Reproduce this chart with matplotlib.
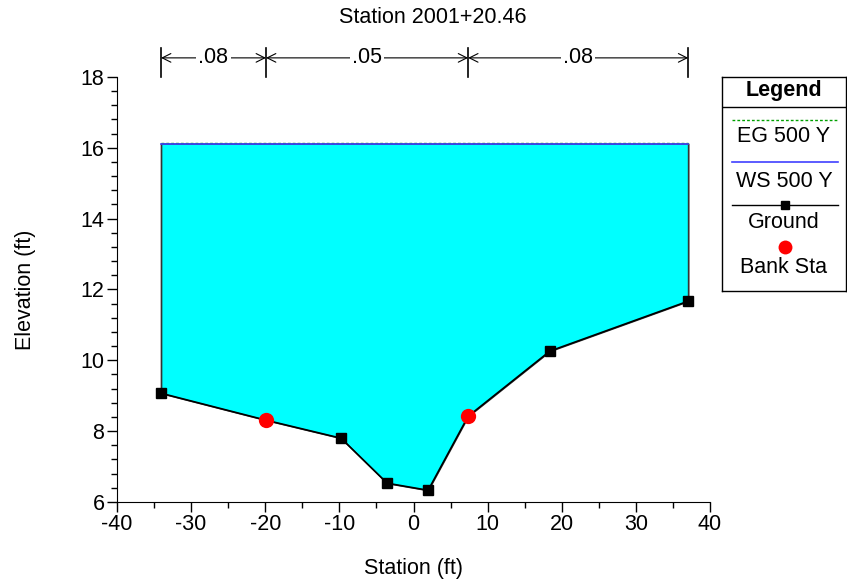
import matplotlib.pyplot as plt
import matplotlib.transforms as mtransforms
from matplotlib.ticker import MultipleLocator
import numpy as np

plt.rcParams['font.family'] = ['Liberation Sans', 'DejaVu Sans']
plt.rcParams['font.size'] = 15.5
plt.rcParams['axes.unicode_minus'] = False

# Ground profile (all points, left to right)
ground_sta = [-34.06, -19.9, -9.77, -3.56, 1.97, 7.37, 18.4, 37.06]
ground_elev = [9.07, 8.31, 7.80, 6.53, 6.33, 8.42, 10.26, 11.67]
# surveyed points that carry a square marker (indices into ground arrays)
ground_marks = [0, 2, 3, 4, 6, 7]

bank_sta = [-19.9, 7.37]
bank_elev = [8.31, 8.42]

ws_elev = 16.12
eg_elev = 16.15

# Manning's n sections along the top
n_breaks = [-34.06, -19.9, 7.37, 37.06]
n_values = [".08", ".05", ".08"]

fig = plt.figure(figsize=(8.47, 5.82), dpi=100)
ax = fig.add_axes([0.1381, 0.1375, 0.7002, 0.7302])

gx = np.array(ground_sta)
gy = np.array(ground_elev)

# water fill
ax.fill_between(gx, gy, ws_elev, color='#00ffff', edgecolor='#333333', linewidth=1, zorder=1)
ax.plot([gx[0], gx[0]], [gy[0], ws_elev], color='#333333', lw=1, zorder=2)
ax.plot([gx[-1], gx[-1]], [gy[-1], ws_elev], color='#333333', lw=1, zorder=2)

ax.plot([gx[0], gx[-1]], [eg_elev, eg_elev], color='#00a000', ls=(0, (2, 1.5)), lw=1, zorder=3)
ax.plot([gx[0], gx[-1]], [ws_elev, ws_elev], color='#4040ff', lw=1.2, zorder=3)

ax.plot(gx, gy, color='black', lw=1.2, marker='s', markersize=7, markevery=ground_marks, zorder=4)
ax.plot(bank_sta, bank_elev, 'o', color='red', markersize=11, zorder=5, markeredgewidth=0)

ax.set_xlim(-40, 40)
ax.set_ylim(6, 18)
ax.xaxis.set_major_locator(MultipleLocator(10))
ax.xaxis.set_minor_locator(MultipleLocator(5))
ax.yaxis.set_major_locator(MultipleLocator(2))
ax.yaxis.set_minor_locator(MultipleLocator(0.4))
ax.tick_params(which='major', length=7, width=1, direction='out', pad=2)
ax.tick_params(which='minor', length=4, width=1, direction='out')
ax.spines['top'].set_visible(False)
ax.spines['right'].set_visible(False)
ax.set_xlabel('Station (ft)', labelpad=16)
ax.set_ylabel('Elevation (ft)', labelpad=32)

# n-value dimension lines above the plot
trans = mtransforms.blended_transform_factory(ax.transData, ax.transAxes)
for b in n_breaks:
    ax.plot([b, b], [1.0, 1.068], color='black', lw=1.2, transform=trans, clip_on=False)
for i, val in enumerate(n_values):
    x0, x1 = n_breaks[i], n_breaks[i + 1]
    ax.annotate('', xy=(x0, 1.045), xytext=(x1, 1.045), xycoords=trans, textcoords=trans,
                arrowprops=dict(arrowstyle='<->', lw=0.8, color='black', shrinkA=0, shrinkB=0))
    ax.text((x0 + x1) / 2, 1.045, val, transform=trans, ha='center', va='center',
            bbox=dict(facecolor='white', edgecolor='none', pad=1.5))

fig.text(0.511, 0.970, 'Station 2001+20.46', ha='center', va='center', fontsize=15.5)

# legend box
lax = fig.add_axes([0.8525, 0.5, 0.146, 0.3677])
lax.set_xlim(0, 1)
lax.set_ylim(0, 1)
lax.set_xticks([])
lax.set_yticks([])
for s in lax.spines.values():
    s.set_linewidth(1)
lax.text(0.5, 0.939, 'Legend', ha='center', va='center', fontweight='bold')
lax.plot([0, 1], [0.86, 0.86], color='black', lw=1)
lax.plot([0.08, 0.94], [0.799, 0.799], color='#00a000', ls=(0, (2, 1.5)), lw=1)
lax.text(0.5, 0.72, 'EG 500 Y', ha='center', va='center')
lax.plot([0.08, 0.94], [0.603, 0.603], color='#4040ff', lw=1.2)
lax.text(0.5, 0.514, 'WS 500 Y', ha='center', va='center')
lax.plot([0.08, 0.94], [0.402, 0.402], color='black', lw=1)
lax.plot([0.51], [0.402], 's', color='black', markersize=6)
lax.text(0.5, 0.318, 'Ground', ha='center', va='center')
lax.plot([0.51], [0.206], 'o', color='red', markersize=10, markeredgewidth=0)
lax.text(0.5, 0.112, 'Bank Sta', ha='center', va='center')

fig.savefig('out.png', dpi=100)
